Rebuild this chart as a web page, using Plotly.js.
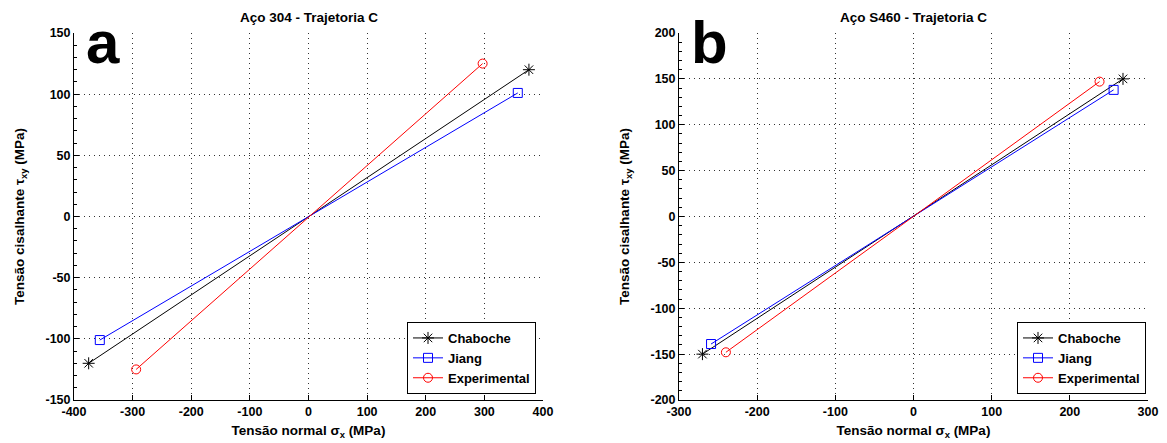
<!DOCTYPE html>
<html>
<head>
<meta charset="utf-8">
<script src="https://cdn.plot.ly/plotly-3.0.1.min.js"></script>
<style>html,body{margin:0;padding:0;background:#fff}#chart{width:1167px;height:443px}</style>
</head>
<body>
<div id="chart"></div>
<script>
// Panel a: Aço 304 - Trajetoria C
const seriesNames = ["Chaboche", "Jiang", "Experimental"];
const a_chaboche_x = [-375, 376];
const a_chaboche_y = [-120, 120];
const a_jiang_x = [-356, 357];
const a_jiang_y = [-101, 101];
const a_exp_x = [-294, 297];
const a_exp_y = [-125, 125];

// Panel b: Aço S460 - Trajetoria C
const b_chaboche_x = [-270, 268];
const b_chaboche_y = [-150, 150];
const b_jiang_x = [-259, 256];
const b_jiang_y = [-139, 138];
const b_exp_x = [-240, 238];
const b_exp_y = [-148, 147];

// Tick values / labels
const a_xticks = [-400, -300, -200, -100, 0, 100, 200, 300, 400];
const a_xlabels = ["-400", "-300", "-200", "-100", "0", "100", "200", "300", "400"];
const a_yticks = [-150, -100, -50, 0, 50, 100, 150];
const a_ylabels = ["-150", "-100", "-50", "0", "50", "100", "150"];
const b_xticks = [-300, -200, -100, 0, 100, 200, 300];
const b_xlabels = ["-300", "-200", "-100", "0", "100", "200", "300"];
const b_yticks = [-200, -150, -100, -50, 0, 50, 100, 150, 200];
const b_ylabels = ["-200", "-150", "-100", "-50", "0", "50", "100", "150", "200"];

const titles = ["Aço 304 - Trajetoria C", "Aço S460 - Trajetoria C"];
const panelLetters = ["a", "b"];
const xTitle = "Tensão normal σ<sub>x</sub> (MPa)";
const yTitle = "Tensão cisalhante τ<sub>xy</sub> (MPa)";

const FONT = "Liberation Sans, Arial, sans-serif";
const colors = ["#000000", "#0000ff", "#ff0000"];
const symbols = ["asterisk-open", "square-open", "circle-open"];

function tr(x, y, i, xa, ya, leg) {
  return {
    x: x, y: y, xaxis: xa, yaxis: ya, legend: leg,
    type: "scatter", mode: "lines+markers", name: seriesNames[i],
    line: {color: colors[i], width: 1},
    marker: {symbol: symbols[i], size: i === 0 ? 10 : 9, color: colors[i], line: {color: colors[i], width: 1}}
  };
}

const data = [
  tr(a_chaboche_x, a_chaboche_y, 0, "x", "y", "legend"),
  tr(a_jiang_x, a_jiang_y, 1, "x", "y", "legend"),
  tr(a_exp_x, a_exp_y, 2, "x", "y", "legend"),
  tr(b_chaboche_x, b_chaboche_y, 0, "x2", "y2", "legend2"),
  tr(b_jiang_x, b_jiang_y, 1, "x2", "y2", "legend2"),
  tr(b_exp_x, b_exp_y, 2, "x2", "y2", "legend2")
];

const W = 1167, H = 443;
const yDom = [1 - 400 / H, 1 - 33 / H];
const GRID_DASH = "1px,4px";

function xax(dom, range, tv, tt) {
  return {
    domain: dom, range: range, tickmode: "array", tickvals: tv, ticktext: tt, autorange: false,
    showline: true, linecolor: "#000", linewidth: 1, mirror: false,
    ticks: "inside", ticklen: 5, tickcolor: "#000",
    showgrid: true, gridcolor: "#333", griddash: GRID_DASH, gridwidth: 1,
    zeroline: false,
    tickfont: {family: FONT, size: 12.5, color: "#000", weight: "bold"},
    title: {text: xTitle, standoff: 7, font: {family: FONT, size: 13.5, color: "#000", weight: "bold"}}
  };
}
function yax(range, tv, tt, anchor) {
  return {
    domain: yDom, range: range, tickmode: "array", tickvals: tv, ticktext: tt, autorange: false, anchor: anchor,
    showline: true, linecolor: "#000", linewidth: 1, mirror: false,
    ticks: "inside", ticklen: 5, tickcolor: "#000",
    minor: {ticks: "inside", ticklen: 3, dtick: 10, tick0: 0, tickcolor: "#000", showgrid: false},
    showgrid: true, gridcolor: "#333", griddash: GRID_DASH, gridwidth: 1,
    zeroline: false,
    tickfont: {family: FONT, size: 12.5, color: "#000", weight: "bold"},
    title: {text: yTitle, standoff: 17, font: {family: FONT, size: 13.5, color: "#000", weight: "bold"}}
  };
}

const legendBase = {
  bgcolor: "#fff", bordercolor: "#000", borderwidth: 1,
  font: {family: FONT, size: 13, color: "#000", weight: "bold"},
  xanchor: "right", yanchor: "bottom", tracegroupgap: 0, itemwidth: 30
};

const layout = {
  width: W, height: H,
  margin: {l: 0, r: 0, t: 0, b: 0},
  paper_bgcolor: "#fff", plot_bgcolor: "#fff",
  showlegend: true,
  xaxis: Object.assign(xax([74 / W, 543 / W], [-400, 400], a_xticks, a_xlabels), {anchor: "y"}),
  yaxis: yax([-150, 150], a_yticks, a_ylabels, "x"),
  xaxis2: Object.assign(xax([679 / W, 1148 / W], [-300, 300], b_xticks, b_xlabels), {anchor: "y2"}),
  yaxis2: yax([-200, 200], b_yticks, b_ylabels, "x2"),
  legend: Object.assign({}, legendBase, {x: 536 / W, y: 1 - 394 / H}),
  legend2: Object.assign({}, legendBase, {x: 1146 / W, y: 1 - 394 / H}),
  annotations: [
    {text: titles[0], xref: "paper", yref: "paper", x: 308.5 / W, y: 1 - 18 / H, xanchor: "center", yanchor: "middle", showarrow: false,
     font: {family: FONT, size: 13.5, color: "#000", weight: "bold"}},
    {text: titles[1], xref: "paper", yref: "paper", x: 913.5 / W, y: 1 - 18 / H, xanchor: "center", yanchor: "middle", showarrow: false,
     font: {family: FONT, size: 13.5, color: "#000", weight: "bold"}},
    {text: panelLetters[0], xref: "paper", yref: "paper", x: 84 / W, y: 1 - 42 / H, xanchor: "left", yanchor: "middle", showarrow: false,
     font: {family: FONT, size: 60, color: "#000", weight: "bold"}},
    {text: panelLetters[1], xref: "paper", yref: "paper", x: 689 / W, y: 1 - 42 / H, xanchor: "left", yanchor: "middle", showarrow: false,
     font: {family: FONT, size: 60, color: "#000", weight: "bold"}}
  ]
};

Plotly.newPlot("chart", data, layout, {displayModeBar: false, staticPlot: true});
</script>
</body>
</html>
